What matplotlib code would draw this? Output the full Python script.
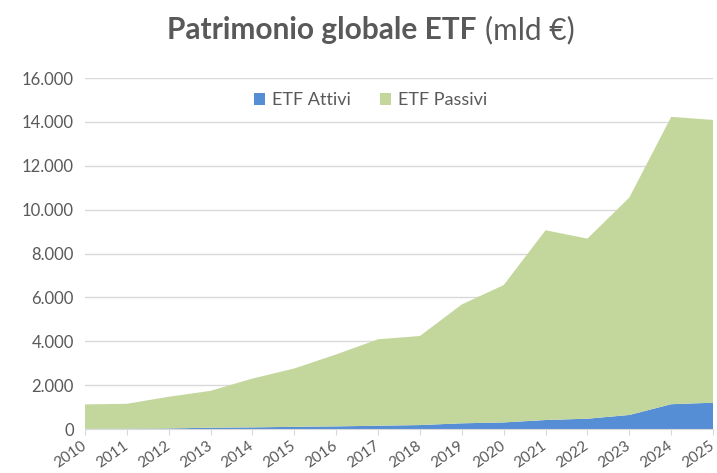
import matplotlib.pyplot as plt
from matplotlib.ticker import FuncFormatter

plt.rcParams['font.family'] = ['Lato', 'DejaVu Sans']

anni = list(range(2010, 2026))
# valori in mld di euro
totale = [1120, 1150, 1470, 1740, 2300, 2760, 3400, 4090, 4240, 5680, 6560, 9060, 8680, 10550, 14230, 14090]
attivi = [10, 15, 25, 60, 75, 100, 120, 150, 180, 260, 300, 410, 470, 640, 1130, 1200]
passivi = [t - a for t, a in zip(totale, attivi)]

BLU = "#558ED5"
VERDE = "#C3D69B"
GRIGIO = "#595959"

fig = plt.figure(figsize=(7.17, 4.73), dpi=100)
ax = fig.add_axes([0.1185, 0.093, 0.876, 0.742])

ax.stackplot(anni, attivi, passivi, colors=[BLU, VERDE], labels=["ETF Attivi", "ETF Passivi"], lw=0)

ax.set_xlim(2010, 2025)
ax.set_ylim(0, 16000)
ax.set_yticks(range(0, 16001, 2000))
ax.yaxis.set_major_formatter(FuncFormatter(lambda v, p: f"{int(v):,}".replace(",", ".")))
ax.set_xticks(anni)
ax.set_xticklabels([str(a) for a in anni], rotation=35, ha="right", va="center",
                   rotation_mode="anchor")

ax.grid(axis="y", color="#D9D9D9", lw=1)
ax.set_axisbelow(True)
for s in ["top", "right", "left"]:
    ax.spines[s].set_visible(False)
ax.spines["bottom"].set_color("#D9D9D9")
ax.tick_params(axis="y", length=0, labelsize=12, labelcolor=GRIGIO, pad=8)
ax.tick_params(axis="x", length=4, color="#D9D9D9", labelsize=11, labelcolor=GRIGIO, pad=7)

ax.legend(loc="center", bbox_to_anchor=(0.455, 0.937), ncol=2, frameon=False,
          fontsize=13, labelcolor=GRIGIO, handlelength=0.6, handleheight=0.6,
          columnspacing=1.6, handletextpad=0.4)

fig.text(0.664, 0.937, "Patrimonio globale ETF", ha="right", va="center",
         fontsize=21.5, fontweight="bold", color=GRIGIO)
fig.text(0.677, 0.937, "(mld €)", ha="left", va="center", fontsize=21.5, color=GRIGIO)

fig.savefig("out.png", dpi=100)
